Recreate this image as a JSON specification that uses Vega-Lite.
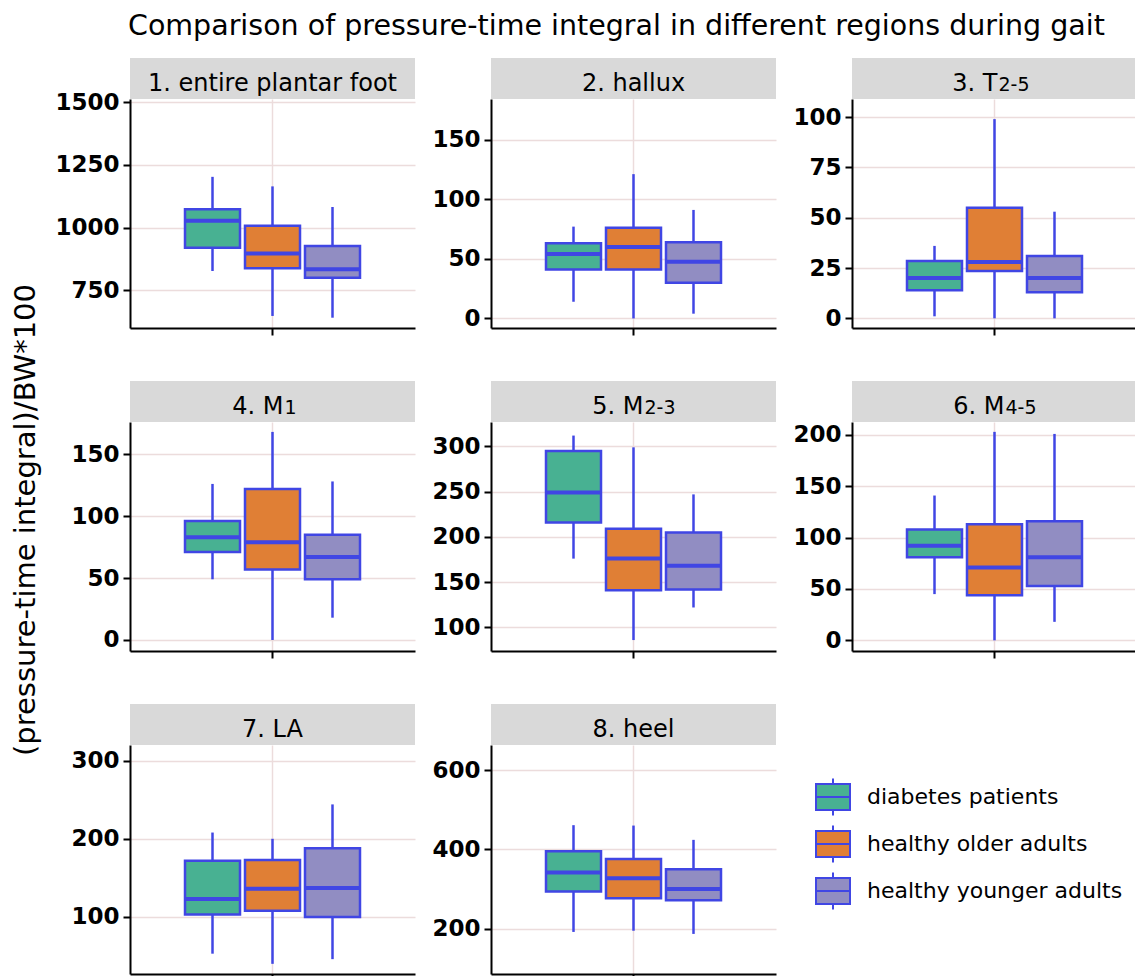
{
  "$schema": "https://vega.github.io/schema/vega-lite/v6.json",
  "padding": {"left": 11, "top": 11, "right": 0, "bottom": 0},
  "title": {"text": "Comparison of pressure-time integral in different regions during gait", "font": "DejaVu Sans", "fontSize": 28.5, "fontWeight": "normal", "color": "black", "anchor": "start", "frame": "group", "offset": 18, "dx": -2},
  "datasets": {
    "boxes": [
      {"region": "1", "group": "diabetes patients", "lo": 827, "q1": 920, "med": 1027, "q3": 1073, "hi": 1202},
      {"region": "1", "group": "healthy older adults", "lo": 648, "q1": 838, "med": 897, "q3": 1007, "hi": 1164},
      {"region": "1", "group": "healthy younger adults", "lo": 641, "q1": 800, "med": 834, "q3": 927, "hi": 1082},
      {"region": "2", "group": "diabetes patients", "lo": 14, "q1": 41, "med": 54, "q3": 63, "hi": 77},
      {"region": "2", "group": "healthy older adults", "lo": 0, "q1": 41, "med": 60, "q3": 76, "hi": 121},
      {"region": "2", "group": "healthy younger adults", "lo": 4, "q1": 30, "med": 47.5, "q3": 64, "hi": 91},
      {"region": "3", "group": "diabetes patients", "lo": 1, "q1": 14, "med": 20, "q3": 28.5, "hi": 36},
      {"region": "3", "group": "healthy older adults", "lo": 0, "q1": 23.5, "med": 28, "q3": 55, "hi": 99},
      {"region": "3", "group": "healthy younger adults", "lo": 0, "q1": 13, "med": 20, "q3": 31, "hi": 53},
      {"region": "4", "group": "diabetes patients", "lo": 49, "q1": 71, "med": 83, "q3": 96, "hi": 126},
      {"region": "4", "group": "healthy older adults", "lo": 0, "q1": 57, "med": 79, "q3": 122, "hi": 168},
      {"region": "4", "group": "healthy younger adults", "lo": 18, "q1": 49, "med": 67, "q3": 85, "hi": 128},
      {"region": "5", "group": "diabetes patients", "lo": 176, "q1": 216, "med": 249, "q3": 295, "hi": 312},
      {"region": "5", "group": "healthy older adults", "lo": 86, "q1": 141, "med": 176, "q3": 209, "hi": 299},
      {"region": "5", "group": "healthy younger adults", "lo": 122, "q1": 142, "med": 168, "q3": 205, "hi": 247},
      {"region": "6", "group": "diabetes patients", "lo": 45, "q1": 81, "med": 92, "q3": 108, "hi": 141},
      {"region": "6", "group": "healthy older adults", "lo": 0, "q1": 44, "med": 71, "q3": 113, "hi": 203},
      {"region": "6", "group": "healthy younger adults", "lo": 18, "q1": 53, "med": 81, "q3": 116, "hi": 201},
      {"region": "7", "group": "diabetes patients", "lo": 53, "q1": 103, "med": 123, "q3": 172, "hi": 208},
      {"region": "7", "group": "healthy older adults", "lo": 40, "q1": 108, "med": 136, "q3": 173, "hi": 200},
      {"region": "7", "group": "healthy younger adults", "lo": 46, "q1": 100, "med": 137, "q3": 188, "hi": 244},
      {"region": "8", "group": "diabetes patients", "lo": 192, "q1": 294, "med": 342, "q3": 395, "hi": 461},
      {"region": "8", "group": "healthy older adults", "lo": 195, "q1": 277, "med": 327, "q3": 376, "hi": 460},
      {"region": "8", "group": "healthy younger adults", "lo": 187, "q1": 272, "med": 300, "q3": 350, "hi": 424}
    ]
  },
  "hconcat": [
    {
      "title": {"text": "(pressure-time integral)/BW*100", "orient": "left", "anchor": "middle", "font": "DejaVu Sans", "fontSize": 29, "fontWeight": "normal", "color": "black", "offset": 14},
      "columns": 3,
      "spacing": {"row": 45, "column": 16},
      "concat": [
        {
          "spacing": 0, "bounds": "flush",
          "vconcat": [
            {"width": 285, "height": 41, "view": {"fill": "#d9d9d9", "stroke": null},
             "data": {"values": [{"label": "1. entire plantar foot"}]},
             "mark": {"type": "text", "fontSize": 24, "font": "DejaVu Sans", "color": "black", "baseline": "alphabetic", "dy": 12.5},
             "encoding": {"text": {"field": "label"}}},
            {"width": 285, "height": 229,
             "data": {"name": "boxes"},
             "transform": [{"filter": {"field": "region", "equal": "1"}}],
             "encoding": {"x": {"field": "group", "type": "nominal", "scale": {"domain": ["diabetes patients", "healthy older adults", "healthy younger adults"], "paddingInner": 0.0833, "paddingOuter": 0.9167}, "axis": {"values": ["healthy older adults"], "labels": false, "title": null, "grid": true}}},
             "layer": [
               {"mark": {"type": "rule", "color": "#4046e4", "strokeWidth": 2.5}, "encoding": {"y": {"field": "lo", "type": "quantitative", "scale": {"domain": [600, 1512], "nice": false, "zero": false}, "axis": {"values": [750, 1000, 1250, 1500], "format": "d", "title": null}}, "y2": {"field": "q1"}}},
               {"mark": {"type": "rule", "color": "#4046e4", "strokeWidth": 2.5}, "encoding": {"y": {"field": "q3", "type": "quantitative"}, "y2": {"field": "hi"}}},
               {"mark": {"type": "rect", "stroke": "#4046e4", "strokeWidth": 2.5}, "encoding": {"y": {"field": "q1", "type": "quantitative"}, "y2": {"field": "q3"}, "fill": {"field": "group", "type": "nominal", "scale": {"domain": ["diabetes patients", "healthy older adults", "healthy younger adults"], "range": ["#48b192", "#e07f35", "#918dc2"]}, "legend": {"orient": "none", "legendX": 685, "legendY": 721, "title": null, "symbolType": "M-1,-0.76H1V0.76H-1Z M-1,0H1 M0,-0.76V-1.09 M0,0.76V1.09", "symbolSize": 1156, "symbolStrokeColor": "#4046e4", "symbolStrokeWidth": 2, "labelFont": "DejaVu Sans", "labelFontSize": 22, "labelColor": "black", "labelOffset": 16, "labelLimit": 400, "rowPadding": 1, "padding": 0}}}},
               {"mark": {"type": "rect", "fillOpacity": 0, "stroke": "#4046e4", "strokeWidth": 4}, "encoding": {"y": {"field": "med", "type": "quantitative"}, "y2": {"field": "med"}}}
             ]}
          ]
        },
        {
          "spacing": 0, "bounds": "flush",
          "vconcat": [
            {"width": 285, "height": 41, "view": {"fill": "#d9d9d9", "stroke": null},
             "data": {"values": [{"label": "2. hallux"}]},
             "mark": {"type": "text", "fontSize": 24, "font": "DejaVu Sans", "color": "black", "baseline": "alphabetic", "dy": 12.5},
             "encoding": {"text": {"field": "label"}}},
            {"width": 285, "height": 229,
             "data": {"name": "boxes"},
             "transform": [{"filter": {"field": "region", "equal": "2"}}],
             "encoding": {"x": {"field": "group", "type": "nominal", "scale": {"domain": ["diabetes patients", "healthy older adults", "healthy younger adults"], "paddingInner": 0.0833, "paddingOuter": 0.9167}, "axis": {"values": ["healthy older adults"], "labels": false, "title": null, "grid": true}}},
             "layer": [
               {"mark": {"type": "rule", "color": "#4046e4", "strokeWidth": 2.5}, "encoding": {"y": {"field": "lo", "type": "quantitative", "scale": {"domain": [-8, 184], "nice": false, "zero": false}, "axis": {"values": [0, 50, 100, 150], "format": "d", "title": null}}, "y2": {"field": "q1"}}},
               {"mark": {"type": "rule", "color": "#4046e4", "strokeWidth": 2.5}, "encoding": {"y": {"field": "q3", "type": "quantitative"}, "y2": {"field": "hi"}}},
               {"mark": {"type": "rect", "stroke": "#4046e4", "strokeWidth": 2.5}, "encoding": {"y": {"field": "q1", "type": "quantitative"}, "y2": {"field": "q3"}, "fill": {"field": "group", "type": "nominal", "scale": {"domain": ["diabetes patients", "healthy older adults", "healthy younger adults"], "range": ["#48b192", "#e07f35", "#918dc2"]}}}},
               {"mark": {"type": "rect", "fillOpacity": 0, "stroke": "#4046e4", "strokeWidth": 4}, "encoding": {"y": {"field": "med", "type": "quantitative"}, "y2": {"field": "med"}}}
             ]}
          ]
        },
        {
          "spacing": 0, "bounds": "flush",
          "vconcat": [
            {"width": 285, "height": 41, "view": {"fill": "#d9d9d9", "stroke": null},
             "data": {"values": [{"main": "3. T", "sub": "2-5"}]},
             "layer": [
               {"mark": {"type": "text", "fontSize": 24, "font": "DejaVu Sans", "color": "black", "baseline": "alphabetic", "align": "right", "dx": 3, "dy": 12.5}, "encoding": {"text": {"field": "main"}}},
               {"mark": {"type": "text", "fontSize": 19, "font": "DejaVu Sans", "color": "black", "baseline": "alphabetic", "align": "left", "dx": 4, "dy": 12.5}, "encoding": {"text": {"field": "sub"}}}
             ]},
            {"width": 285, "height": 229,
             "data": {"name": "boxes"},
             "transform": [{"filter": {"field": "region", "equal": "3"}}],
             "encoding": {"x": {"field": "group", "type": "nominal", "scale": {"domain": ["diabetes patients", "healthy older adults", "healthy younger adults"], "paddingInner": 0.0833, "paddingOuter": 0.9167}, "axis": {"values": ["healthy older adults"], "labels": false, "title": null, "grid": true}}},
             "layer": [
               {"mark": {"type": "rule", "color": "#4046e4", "strokeWidth": 2.5}, "encoding": {"y": {"field": "lo", "type": "quantitative", "scale": {"domain": [-4.8, 109], "nice": false, "zero": false}, "axis": {"values": [0, 25, 50, 75, 100], "format": "d", "title": null}}, "y2": {"field": "q1"}}},
               {"mark": {"type": "rule", "color": "#4046e4", "strokeWidth": 2.5}, "encoding": {"y": {"field": "q3", "type": "quantitative"}, "y2": {"field": "hi"}}},
               {"mark": {"type": "rect", "stroke": "#4046e4", "strokeWidth": 2.5}, "encoding": {"y": {"field": "q1", "type": "quantitative"}, "y2": {"field": "q3"}, "fill": {"field": "group", "type": "nominal", "scale": {"domain": ["diabetes patients", "healthy older adults", "healthy younger adults"], "range": ["#48b192", "#e07f35", "#918dc2"]}}}},
               {"mark": {"type": "rect", "fillOpacity": 0, "stroke": "#4046e4", "strokeWidth": 4}, "encoding": {"y": {"field": "med", "type": "quantitative"}, "y2": {"field": "med"}}}
             ]}
          ]
        },
        {
          "spacing": 0, "bounds": "flush",
          "vconcat": [
            {"width": 285, "height": 41, "view": {"fill": "#d9d9d9", "stroke": null},
             "data": {"values": [{"main": "4. M", "sub": "1"}]},
             "layer": [
               {"mark": {"type": "text", "fontSize": 24, "font": "DejaVu Sans", "color": "black", "baseline": "alphabetic", "align": "right", "dx": 11, "dy": 12.5}, "encoding": {"text": {"field": "main"}}},
               {"mark": {"type": "text", "fontSize": 19, "font": "DejaVu Sans", "color": "black", "baseline": "alphabetic", "align": "left", "dx": 12, "dy": 12.5}, "encoding": {"text": {"field": "sub"}}}
             ]},
            {"width": 285, "height": 229,
             "data": {"name": "boxes"},
             "transform": [{"filter": {"field": "region", "equal": "4"}}],
             "encoding": {"x": {"field": "group", "type": "nominal", "scale": {"domain": ["diabetes patients", "healthy older adults", "healthy younger adults"], "paddingInner": 0.0833, "paddingOuter": 0.9167}, "axis": {"values": ["healthy older adults"], "labels": false, "title": null, "grid": true}}},
             "layer": [
               {"mark": {"type": "rule", "color": "#4046e4", "strokeWidth": 2.5}, "encoding": {"y": {"field": "lo", "type": "quantitative", "scale": {"domain": [-8.9, 176], "nice": false, "zero": false}, "axis": {"values": [0, 50, 100, 150], "format": "d", "title": null}}, "y2": {"field": "q1"}}},
               {"mark": {"type": "rule", "color": "#4046e4", "strokeWidth": 2.5}, "encoding": {"y": {"field": "q3", "type": "quantitative"}, "y2": {"field": "hi"}}},
               {"mark": {"type": "rect", "stroke": "#4046e4", "strokeWidth": 2.5}, "encoding": {"y": {"field": "q1", "type": "quantitative"}, "y2": {"field": "q3"}, "fill": {"field": "group", "type": "nominal", "scale": {"domain": ["diabetes patients", "healthy older adults", "healthy younger adults"], "range": ["#48b192", "#e07f35", "#918dc2"]}}}},
               {"mark": {"type": "rect", "fillOpacity": 0, "stroke": "#4046e4", "strokeWidth": 4}, "encoding": {"y": {"field": "med", "type": "quantitative"}, "y2": {"field": "med"}}}
             ]}
          ]
        },
        {
          "spacing": 0, "bounds": "flush",
          "vconcat": [
            {"width": 285, "height": 41, "view": {"fill": "#d9d9d9", "stroke": null},
             "data": {"values": [{"main": "5. M", "sub": "2-3"}]},
             "layer": [
               {"mark": {"type": "text", "fontSize": 24, "font": "DejaVu Sans", "color": "black", "baseline": "alphabetic", "align": "right", "dx": 10, "dy": 12.5}, "encoding": {"text": {"field": "main"}}},
               {"mark": {"type": "text", "fontSize": 19, "font": "DejaVu Sans", "color": "black", "baseline": "alphabetic", "align": "left", "dx": 11, "dy": 12.5}, "encoding": {"text": {"field": "sub"}}}
             ]},
            {"width": 285, "height": 229,
             "data": {"name": "boxes"},
             "transform": [{"filter": {"field": "region", "equal": "5"}}],
             "encoding": {"x": {"field": "group", "type": "nominal", "scale": {"domain": ["diabetes patients", "healthy older adults", "healthy younger adults"], "paddingInner": 0.0833, "paddingOuter": 0.9167}, "axis": {"values": ["healthy older adults"], "labels": false, "title": null, "grid": true}}},
             "layer": [
               {"mark": {"type": "rule", "color": "#4046e4", "strokeWidth": 2.5}, "encoding": {"y": {"field": "lo", "type": "quantitative", "scale": {"domain": [73.9, 327], "nice": false, "zero": false}, "axis": {"values": [100, 150, 200, 250, 300], "format": "d", "title": null}}, "y2": {"field": "q1"}}},
               {"mark": {"type": "rule", "color": "#4046e4", "strokeWidth": 2.5}, "encoding": {"y": {"field": "q3", "type": "quantitative"}, "y2": {"field": "hi"}}},
               {"mark": {"type": "rect", "stroke": "#4046e4", "strokeWidth": 2.5}, "encoding": {"y": {"field": "q1", "type": "quantitative"}, "y2": {"field": "q3"}, "fill": {"field": "group", "type": "nominal", "scale": {"domain": ["diabetes patients", "healthy older adults", "healthy younger adults"], "range": ["#48b192", "#e07f35", "#918dc2"]}}}},
               {"mark": {"type": "rect", "fillOpacity": 0, "stroke": "#4046e4", "strokeWidth": 4}, "encoding": {"y": {"field": "med", "type": "quantitative"}, "y2": {"field": "med"}}}
             ]}
          ]
        },
        {
          "spacing": 0, "bounds": "flush",
          "vconcat": [
            {"width": 285, "height": 41, "view": {"fill": "#d9d9d9", "stroke": null},
             "data": {"values": [{"main": "6. M", "sub": "4-5"}]},
             "layer": [
               {"mark": {"type": "text", "fontSize": 24, "font": "DejaVu Sans", "color": "black", "baseline": "alphabetic", "align": "right", "dx": 10, "dy": 12.5}, "encoding": {"text": {"field": "main"}}},
               {"mark": {"type": "text", "fontSize": 19, "font": "DejaVu Sans", "color": "black", "baseline": "alphabetic", "align": "left", "dx": 11, "dy": 12.5}, "encoding": {"text": {"field": "sub"}}}
             ]},
            {"width": 285, "height": 229,
             "data": {"name": "boxes"},
             "transform": [{"filter": {"field": "region", "equal": "6"}}],
             "encoding": {"x": {"field": "group", "type": "nominal", "scale": {"domain": ["diabetes patients", "healthy older adults", "healthy younger adults"], "paddingInner": 0.0833, "paddingOuter": 0.9167}, "axis": {"values": ["healthy older adults"], "labels": false, "title": null, "grid": true}}},
             "layer": [
               {"mark": {"type": "rule", "color": "#4046e4", "strokeWidth": 2.5}, "encoding": {"y": {"field": "lo", "type": "quantitative", "scale": {"domain": [-10.4, 212.6], "nice": false, "zero": false}, "axis": {"values": [0, 50, 100, 150, 200], "format": "d", "title": null}}, "y2": {"field": "q1"}}},
               {"mark": {"type": "rule", "color": "#4046e4", "strokeWidth": 2.5}, "encoding": {"y": {"field": "q3", "type": "quantitative"}, "y2": {"field": "hi"}}},
               {"mark": {"type": "rect", "stroke": "#4046e4", "strokeWidth": 2.5}, "encoding": {"y": {"field": "q1", "type": "quantitative"}, "y2": {"field": "q3"}, "fill": {"field": "group", "type": "nominal", "scale": {"domain": ["diabetes patients", "healthy older adults", "healthy younger adults"], "range": ["#48b192", "#e07f35", "#918dc2"]}}}},
               {"mark": {"type": "rect", "fillOpacity": 0, "stroke": "#4046e4", "strokeWidth": 4}, "encoding": {"y": {"field": "med", "type": "quantitative"}, "y2": {"field": "med"}}}
             ]}
          ]
        },
        {
          "spacing": 0, "bounds": "flush",
          "vconcat": [
            {"width": 285, "height": 41, "view": {"fill": "#d9d9d9", "stroke": null},
             "data": {"values": [{"label": "7. LA"}]},
             "mark": {"type": "text", "fontSize": 24, "font": "DejaVu Sans", "color": "black", "baseline": "alphabetic", "dy": 12.5},
             "encoding": {"text": {"field": "label"}}},
            {"width": 285, "height": 229,
             "data": {"name": "boxes"},
             "transform": [{"filter": {"field": "region", "equal": "7"}}],
             "encoding": {"x": {"field": "group", "type": "nominal", "scale": {"domain": ["diabetes patients", "healthy older adults", "healthy younger adults"], "paddingInner": 0.0833, "paddingOuter": 0.9167}, "axis": {"values": ["healthy older adults"], "labels": false, "title": null, "grid": true}}},
             "layer": [
               {"mark": {"type": "rule", "color": "#4046e4", "strokeWidth": 2.5}, "encoding": {"y": {"field": "lo", "type": "quantitative", "scale": {"domain": [27, 320], "nice": false, "zero": false}, "axis": {"values": [100, 200, 300], "format": "d", "title": null}}, "y2": {"field": "q1"}}},
               {"mark": {"type": "rule", "color": "#4046e4", "strokeWidth": 2.5}, "encoding": {"y": {"field": "q3", "type": "quantitative"}, "y2": {"field": "hi"}}},
               {"mark": {"type": "rect", "stroke": "#4046e4", "strokeWidth": 2.5}, "encoding": {"y": {"field": "q1", "type": "quantitative"}, "y2": {"field": "q3"}, "fill": {"field": "group", "type": "nominal", "scale": {"domain": ["diabetes patients", "healthy older adults", "healthy younger adults"], "range": ["#48b192", "#e07f35", "#918dc2"]}}}},
               {"mark": {"type": "rect", "fillOpacity": 0, "stroke": "#4046e4", "strokeWidth": 4}, "encoding": {"y": {"field": "med", "type": "quantitative"}, "y2": {"field": "med"}}}
             ]}
          ]
        },
        {
          "spacing": 0, "bounds": "flush",
          "vconcat": [
            {"width": 285, "height": 41, "view": {"fill": "#d9d9d9", "stroke": null},
             "data": {"values": [{"label": "8. heel"}]},
             "mark": {"type": "text", "fontSize": 24, "font": "DejaVu Sans", "color": "black", "baseline": "alphabetic", "dy": 12.5},
             "encoding": {"text": {"field": "label"}}},
            {"width": 285, "height": 229,
             "data": {"name": "boxes"},
             "transform": [{"filter": {"field": "region", "equal": "8"}}],
             "encoding": {"x": {"field": "group", "type": "nominal", "scale": {"domain": ["diabetes patients", "healthy older adults", "healthy younger adults"], "paddingInner": 0.0833, "paddingOuter": 0.9167}, "axis": {"values": ["healthy older adults"], "labels": false, "title": null, "grid": true}}},
             "layer": [
               {"mark": {"type": "rule", "color": "#4046e4", "strokeWidth": 2.5}, "encoding": {"y": {"field": "lo", "type": "quantitative", "scale": {"domain": [86, 663], "nice": false, "zero": false}, "axis": {"values": [200, 400, 600], "format": "d", "title": null}}, "y2": {"field": "q1"}}},
               {"mark": {"type": "rule", "color": "#4046e4", "strokeWidth": 2.5}, "encoding": {"y": {"field": "q3", "type": "quantitative"}, "y2": {"field": "hi"}}},
               {"mark": {"type": "rect", "stroke": "#4046e4", "strokeWidth": 2.5}, "encoding": {"y": {"field": "q1", "type": "quantitative"}, "y2": {"field": "q3"}, "fill": {"field": "group", "type": "nominal", "scale": {"domain": ["diabetes patients", "healthy older adults", "healthy younger adults"], "range": ["#48b192", "#e07f35", "#918dc2"]}}}},
               {"mark": {"type": "rect", "fillOpacity": 0, "stroke": "#4046e4", "strokeWidth": 4}, "encoding": {"y": {"field": "med", "type": "quantitative"}, "y2": {"field": "med"}}}
             ]}
          ]
        }
      ]
    }
  ],
  "config": {
    "view": {"stroke": null},
    "font": "DejaVu Sans",
    "axis": {"domainColor": "black", "domainWidth": 2, "tickColor": "black", "tickWidth": 2, "tickSize": 7, "gridColor": "#ecdcdc", "gridWidth": 1.5, "labelFont": "DejaVu Sans", "labelFontSize": 23, "labelFontWeight": "bold", "labelColor": "black", "labelPadding": 4},
    "axisY": {"minExtent": 60, "maxExtent": 60}
  }
}
